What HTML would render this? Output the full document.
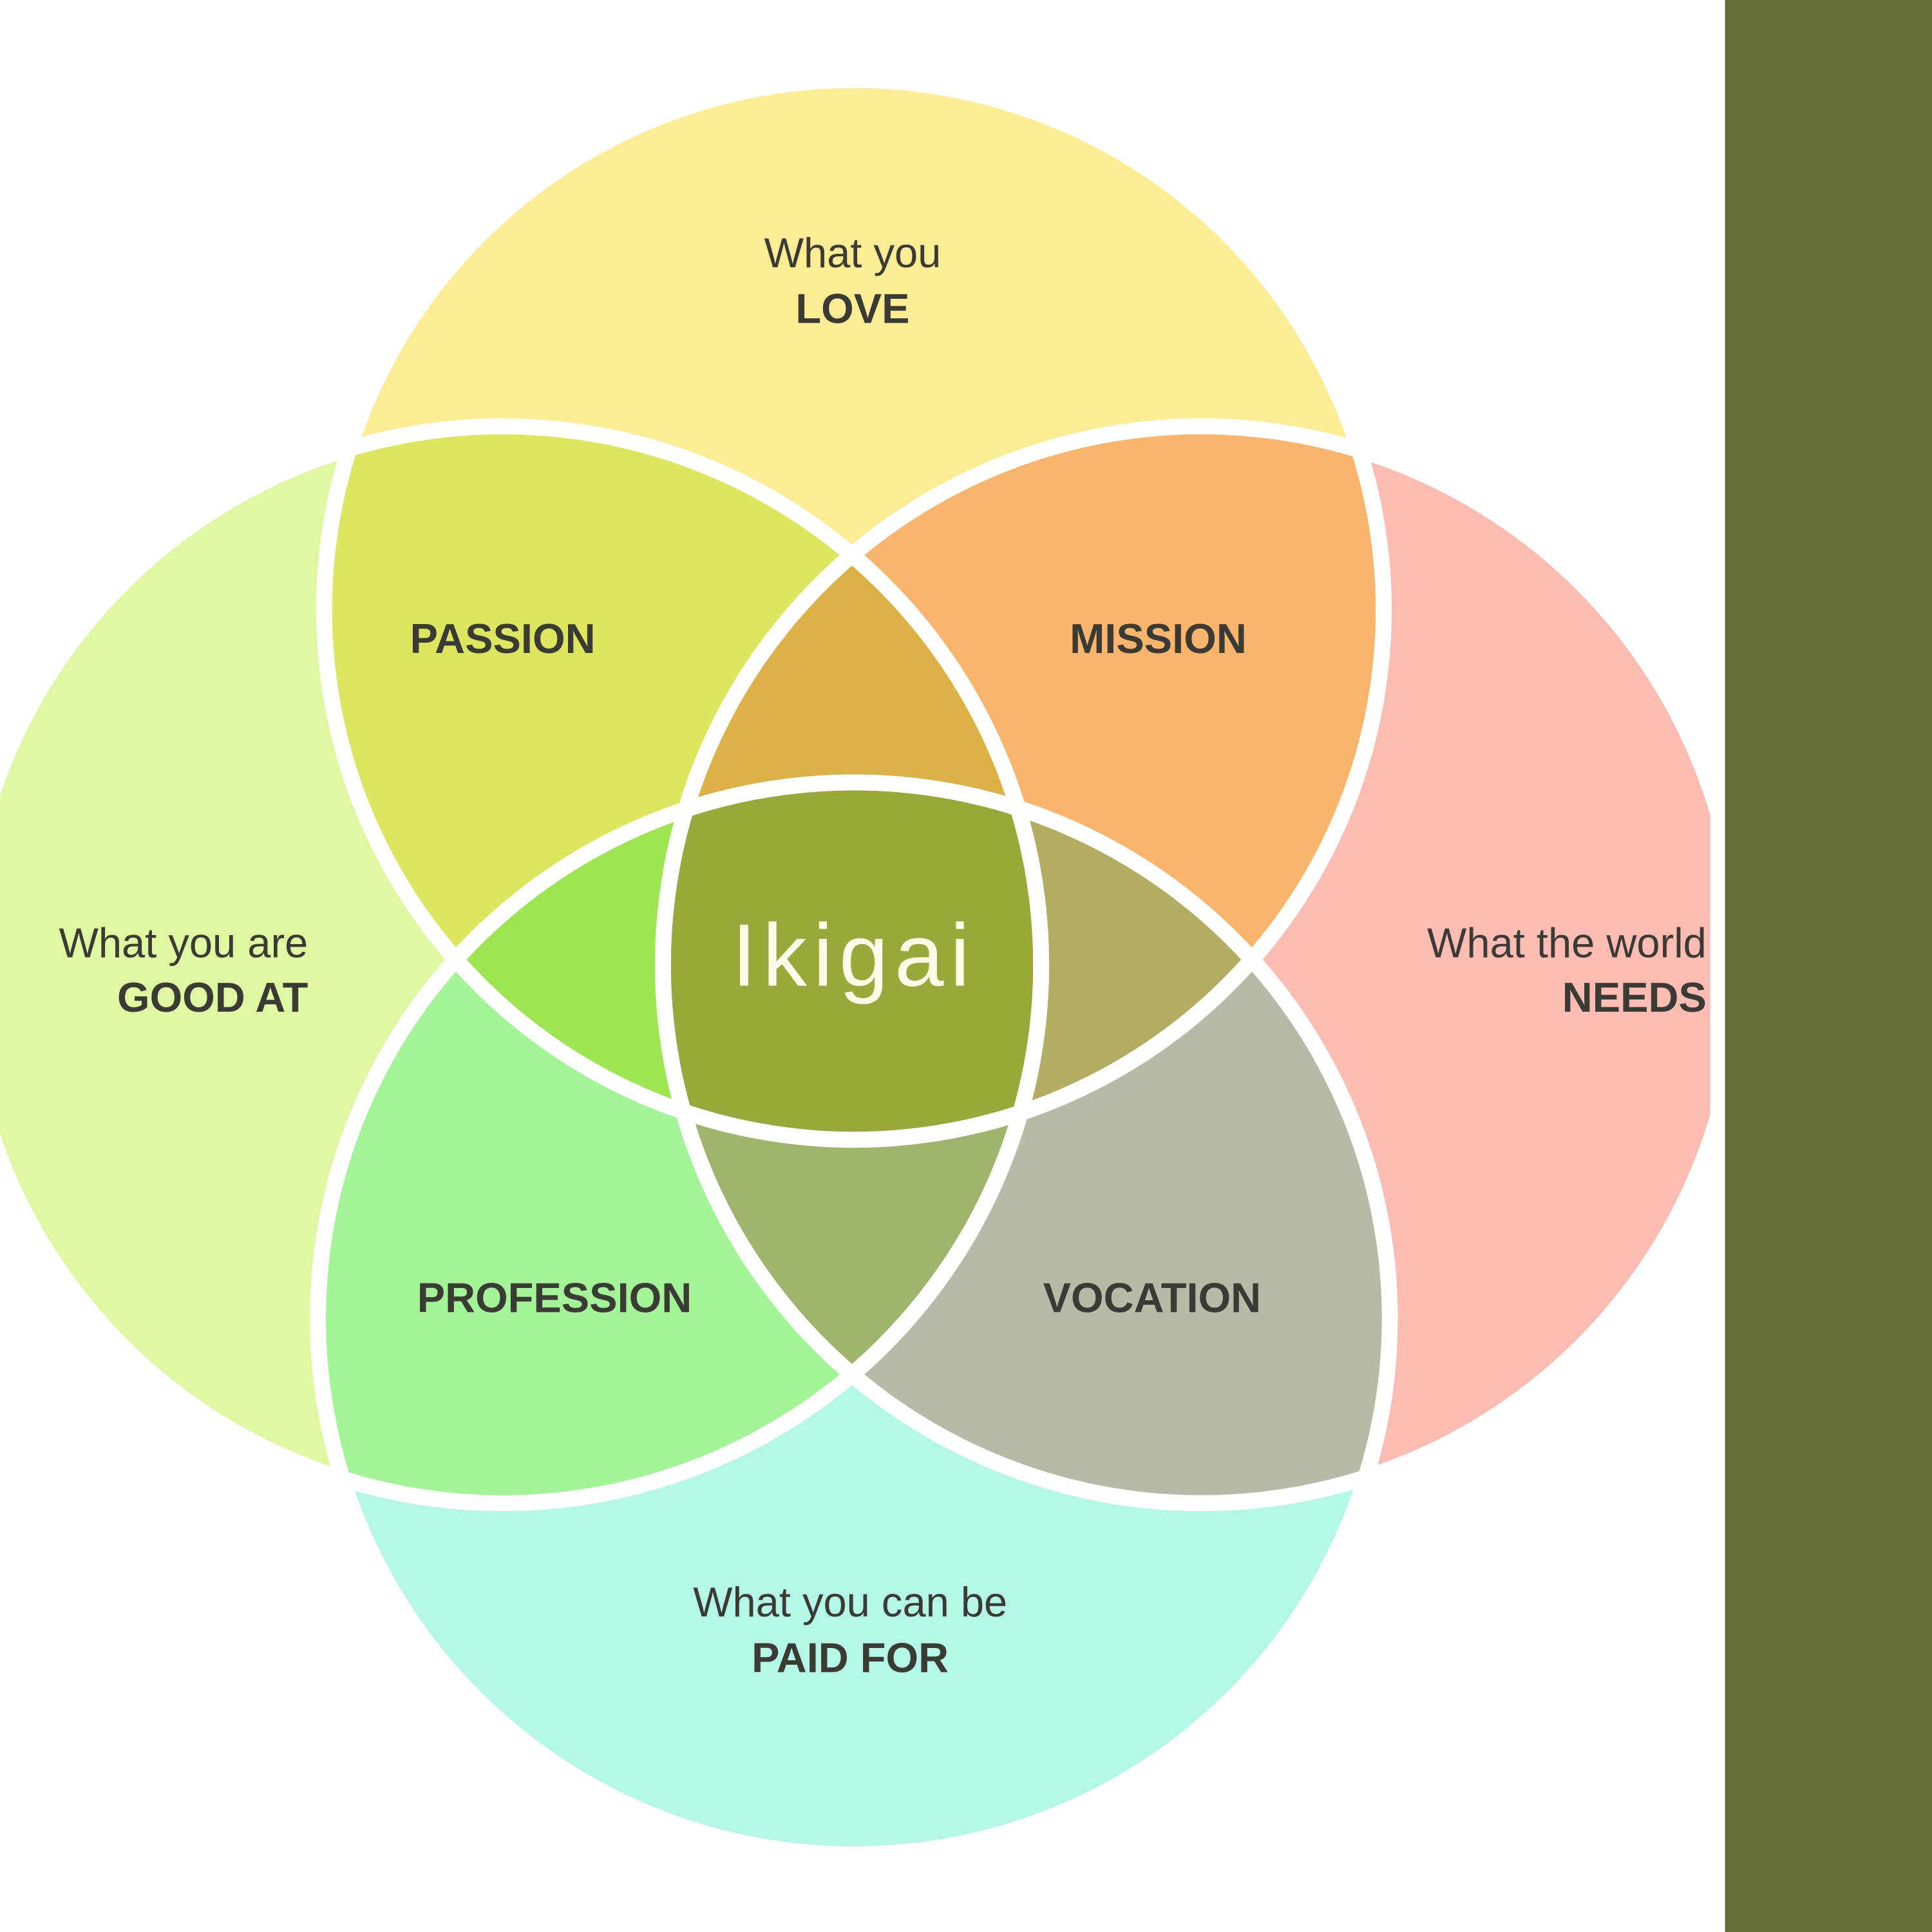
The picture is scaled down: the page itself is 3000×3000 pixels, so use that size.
<!DOCTYPE html>
<html><head><meta charset="utf-8"><style>
html,body{margin:0;padding:0;background:#fff;}
svg{display:block;}
text{font-family:"Liberation Sans",sans-serif;fill:#3b3b35;}
</style></head><body>
<svg width="3000" height="3000" viewBox="0 0 1568 1568" xmlns="http://www.w3.org/2000/svg">
<defs>
<clipPath id="pg"><rect x="0" y="0" width="1388" height="1568"/></clipPath>
<clipPath id="cT"><circle cx="693" cy="495" r="430"/></clipPath>
<clipPath id="cB"><circle cx="693" cy="1070" r="435"/></clipPath>
<clipPath id="cL"><circle cx="408" cy="783" r="437"/></clipPath>
<clipPath id="cR"><circle cx="975" cy="783" r="437"/></clipPath>
</defs>
<rect width="1568" height="1568" fill="#fff"/>
<rect x="1400" y="0" width="168" height="1568" fill="#636e34"/>
<g clip-path="url(#pg)">
<circle cx="693" cy="495" r="430" fill="#fcec94"/>
<circle cx="693" cy="1070" r="435" fill="#b5f7e6"/>
<circle cx="408" cy="783" r="437" fill="#dff7a0"/>
<circle cx="975" cy="783" r="437" fill="#fdbcb2"/>
<!-- pairs -->
<g clip-path="url(#cT)"><circle cx="408" cy="783" r="437" fill="#dbe85f"/><circle cx="975" cy="783" r="437" fill="#fbb46c"/></g>
<g clip-path="url(#cB)"><circle cx="408" cy="783" r="437" fill="#a3f497"/><circle cx="975" cy="783" r="437" fill="#b8baa6"/></g>
<!-- triples -->
<g clip-path="url(#cL)"><g clip-path="url(#cR)"><circle cx="693" cy="495" r="430" fill="#dcb246"/><circle cx="693" cy="1070" r="435" fill="#9db56c"/></g></g>
<g clip-path="url(#cT)"><g clip-path="url(#cB)"><circle cx="408" cy="783" r="437" fill="#9ee552"/><circle cx="975" cy="783" r="437" fill="#b2ad62"/></g></g>
<!-- quad -->
<g clip-path="url(#cT)"><g clip-path="url(#cB)"><g clip-path="url(#cL)"><circle cx="975" cy="783" r="437" fill="#9aa83a"/></g></g></g>
<g fill="none" stroke="#fff" stroke-width="13">
<circle cx="693" cy="495" r="430"/>
<circle cx="693" cy="1070" r="435"/>
<circle cx="408" cy="783" r="437"/>
<circle cx="975" cy="783" r="437"/>
</g>
</g>
<g font-size="34" text-anchor="middle">
<text x="692" y="217">What you</text>
<text x="692" y="262" font-weight="bold">LOVE</text>
<text x="408" y="530" font-weight="bold">PASSION</text>
<text x="940" y="530" font-weight="bold">MISSION</text>
<text x="450" y="1065" font-weight="bold">PROFESSION</text>
<text x="935" y="1065" font-weight="bold">VOCATION</text>
<text x="690" y="1312">What you can be</text>
<text x="690" y="1357" font-weight="bold">PAID FOR</text>
</g>
<g font-size="34" text-anchor="end">
<text x="250" y="777">What you are</text>
<text x="250" y="821" font-weight="bold">GOOD AT</text>
<text x="1385" y="777">What the world</text>
<text x="1385" y="821" font-weight="bold">NEEDS</text>
</g>
<text x="693" y="800" font-size="72" text-anchor="middle" letter-spacing="5" style="fill:#fdfbe8">Ikigai</text>
</svg>
</body></html>
